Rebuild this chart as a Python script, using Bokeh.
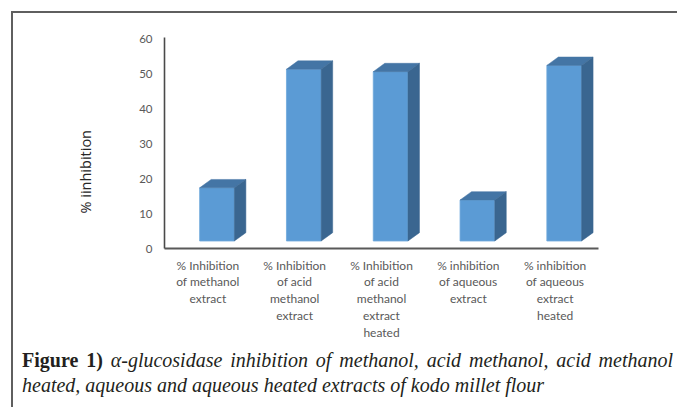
from bokeh.plotting import figure
from bokeh.models import Range1d, FixedTicker, Div, Title, ColumnDataSource
from bokeh.layouts import column
from bokeh.embed import file_html
from bokeh.resources import INLINE

# ---- data ----
categories = [
    "% Inhibition\nof methanol\nextract",
    "% Inhibition\nof acid\nmethanol\nextract",
    "% Inhibition\nof acid\nmethanol\nextract\nheated",
    "% inhibition\nof aqueous\nextract",
    "% inhibition\nof aqueous\nextract\nheated",
]
values = [17.4, 51.4, 50.7, 13.9, 52.5]
y_ticks = [0, 10, 20, 30, 40, 50, 60]
y_title = "% iinhibition"
caption_bold = "Figure 1)"
caption_line1 = "\u03b1-glucosidase inhibition of methanol, acid methanol, acid methanol"
caption_line2 = "heated, aqueous and aqueous heated extracts of kodo millet flour"

# ---- style constants (3D look) ----
BAR_W = 0.40
BAR_SHIFT = 0.105
FLOOR = 2.15
DX = 0.1325
DY = 2.4
FRONT = "#5B9BD5"
TOP = "#4475A5"
SIDE = "#3A6690"

n = len(values)
centers = [i + 0.5 for i in range(n)]
lefts = [c + BAR_SHIFT - BAR_W / 2 for c in centers]
rights = [c + BAR_SHIFT + BAR_W / 2 for c in centers]

p = figure(width=660, height=330, output_backend="svg", toolbar_location=None,
           x_range=Range1d(0, n), y_range=Range1d(0, 60.5),
           min_border_left=151, min_border_right=75, min_border_top=24, min_border_bottom=95)
p.outline_line_color = None
p.grid.visible = False
p.background_fill_color = "white"
p.border_fill_color = "white"

front_src = ColumnDataSource(dict(left=lefts, right=rights, top=values, bottom=[FLOOR] * n))
p.quad(left="left", right="right", top="top", bottom="bottom", source=front_src,
       fill_color=FRONT, line_color="#6FA8DC", line_width=0.8)

top_xs = [[l, r, r + DX, l + DX] for l, r in zip(lefts, rights)]
top_ys = [[v, v, v + DY, v + DY] for v in values]
p.patches(top_xs, top_ys, fill_color=TOP, line_color=TOP, line_width=0.5)

side_xs = [[r, r, r + DX, r + DX] for r in rights]
side_ys = [[FLOOR, v, v + DY, FLOOR + DY] for v in values]
p.patches(side_xs, side_ys, fill_color=SIDE, line_color=SIDE, line_width=0.5)

# y axis
ya = p.yaxis[0]
ya.ticker = FixedTicker(ticks=y_ticks)
ya.major_tick_line_color = None
ya.minor_tick_line_color = None
ya.major_tick_out = 0
ya.major_tick_in = 0
ya.axis_line_color = "#4a4a4a"
ya.axis_line_width = 1.6
ya.major_label_text_font = "Lato"
ya.major_label_text_font_size = "11.5px"
ya.major_label_text_color = "#595959"
ya.major_label_standoff = 12

# x axis
xa = p.xaxis[0]
xa.ticker = FixedTicker(ticks=centers)
xa.major_label_overrides = {c: lab for c, lab in zip(centers, categories)}
xa.major_tick_line_color = None
xa.minor_tick_line_color = None
xa.major_tick_out = 0
xa.major_tick_in = 0
xa.axis_line_color = "#595959"
xa.axis_line_width = 2
xa.major_label_text_font = "Lato"
xa.major_label_text_font_size = "12px"
xa.major_label_text_color = "#595959"
xa.major_label_text_line_height = 1.13
xa.major_label_standoff = 9

# y axis title as a left-side title
yt = Title(text=y_title, align="left", offset=35, standoff=84,
           text_font="Open Sans", text_font_size="14.5px", text_font_style="normal",
           text_color="#262626")
p.add_layout(yt, "left")

html = (
    '<div style="font-family:\'Liberation Serif\',serif; font-size:20px; line-height:25px; '
    'color:#231f20; padding-left:4px; width:655px;">'
    '<div style="text-align:justify; text-align-last:justify;">'
    f'<b>{caption_bold}</b> <i>{caption_line1}</i></div>'
    f'<div><i>{caption_line2}</i></div></div>'
)
cap = Div(text=html, width=660, height=58)

layout = column(p, cap, spacing=0, margin=(11, 0, 0, 11),
                styles={"border-left": "2px solid #5f5f5f", "border-top": "2px solid #5f5f5f"})

open("out.html", "w").write(file_html(layout, INLINE))
